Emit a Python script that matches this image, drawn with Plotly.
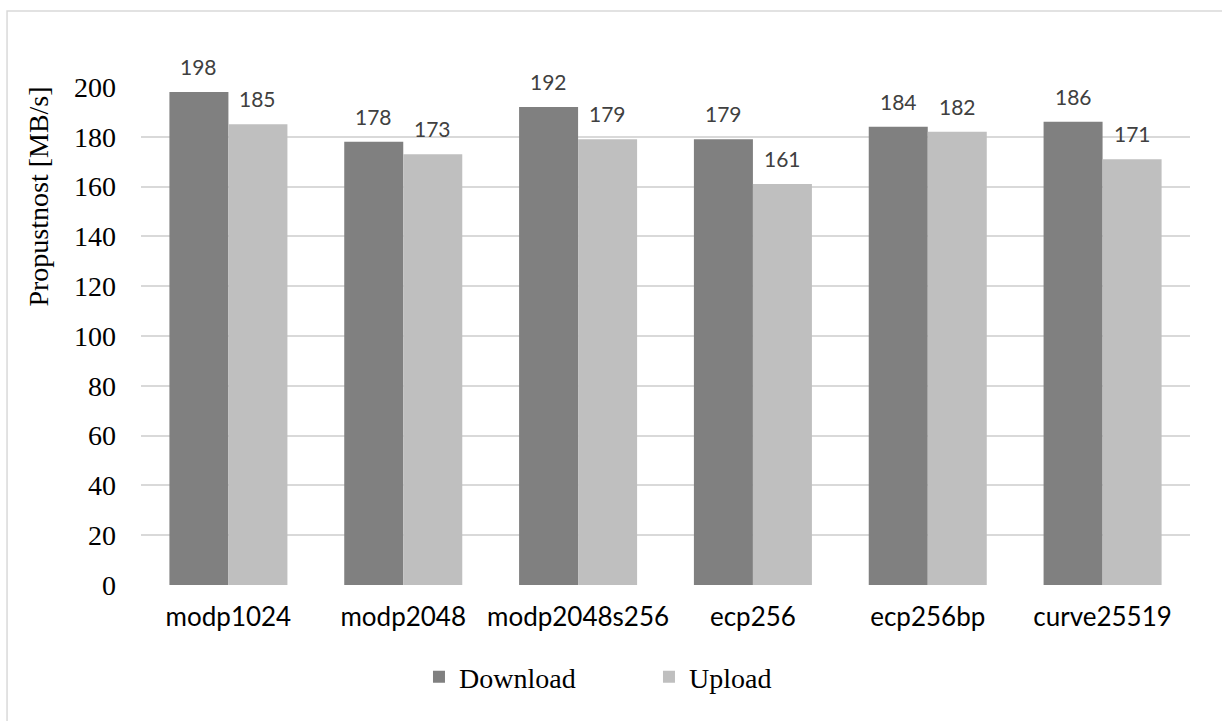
import plotly.graph_objects as go

# Throughput per key-exchange group
categories = ["modp1024", "modp2048", "modp2048s256", "ecp256", "ecp256bp", "curve25519"]
download = [198, 178, 192, 179, 184, 186]
upload = [185, 173, 179, 161, 182, 171]
y_ticks = [0, 20, 40, 60, 80, 100, 120, 140, 160, 180, 200]

SERIF = "Liberation Serif, Times New Roman, serif"
SANS = "Lato, Open Sans, sans-serif"
DARK = "#808080"
LIGHT = "#bfbfbf"

fig = go.Figure()
fig.add_trace(go.Bar(name="Download", x=categories, y=download,
                     marker=dict(color=DARK, line=dict(width=0))))
fig.add_trace(go.Bar(name="Upload", x=categories, y=upload,
                     marker=dict(color=LIGHT, line=dict(width=0))))

# value labels above each bar
half_bar_px = 29.5
for cat, d, u in zip(categories, download, upload):
    for val, shift in ((d, -half_bar_px), (u, half_bar_px)):
        fig.add_annotation(x=cat, y=val, xref="x", yref="y", text=str(val),
                           showarrow=False, xshift=shift, yshift=11,
                           yanchor="bottom", xanchor="center",
                           font=dict(family=SANS, size=21, color="#404040"))

# y-axis title, placed in the upper part of the axis
fig.add_annotation(text="Propustnost [MB/s]", xref="paper", yref="paper",
                   x=-0.0977, y=0.779, textangle=-90, showarrow=False,
                   xanchor="center", yanchor="middle",
                   font=dict(family=SERIF, size=28, color="#000000"))

# outer chart frame
fig.add_shape(type="rect", xref="paper", yref="paper",
              x0=-0.1277, x1=1.05, y0=-0.3, y1=1.1526,
              line=dict(color="#d9d9d9", width=1.5), fillcolor="rgba(0,0,0,0)",
              layer="below")

fig.update_layout(
    width=1222, height=721,
    margin=dict(l=141, r=32, t=87, b=136),
    paper_bgcolor="white", plot_bgcolor="white",
    barmode="group", bargap=0.325, bargroupgap=0,
    showlegend=True,
    legend=dict(orientation="h", x=0.265, y=-0.185, xanchor="left", yanchor="middle",
                font=dict(family=SERIF, size=28, color="#000000"),
                entrywidth=185, itemwidth=30, traceorder="normal"),
    xaxis=dict(type="category", showgrid=False, zeroline=False,
               showline=False, ticks="",
               tickfont=dict(family=SANS, size=26, color="#000000"),
               ticklabelstandoff=14),
    yaxis=dict(range=[0, 200], tickvals=y_ticks, showgrid=True,
               gridcolor="#d9d9d9", gridwidth=1.5, zeroline=False,
               showline=False, ticks="",
               tickfont=dict(family=SERIF, size=28, color="#000000"),
               ticklabelstandoff=24),
)

fig.write_html("out.html")
